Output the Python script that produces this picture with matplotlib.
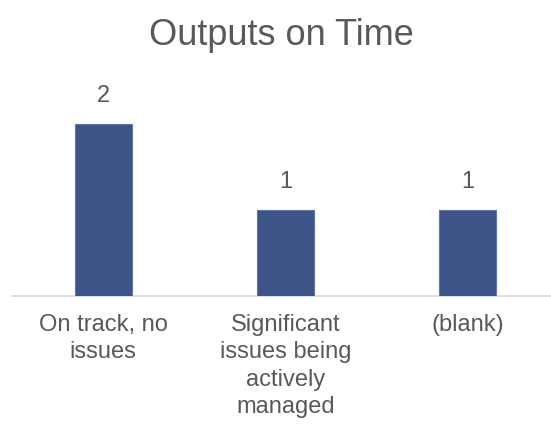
import matplotlib
matplotlib.use("Agg")
import matplotlib.pyplot as plt

categories = ["On track, no\nissues", "Significant\nissues being\nactively\nmanaged", "(blank)"]
values = [2, 1, 1]
title = "Outputs on Time"

plt.rcParams['font.family'] = ['Liberation Sans', 'DejaVu Sans']
text_color = "#595959"

fig = plt.figure(figsize=(5.51, 4.25), dpi=100)
ax = fig.add_axes([12/551, 129/425, 539/551, 215/425])
x = list(range(len(values)))
bars = ax.bar(x, values, width=0.312, color="#3C5488", edgecolor="#5E76AE", linewidth=0.8, zorder=3)
ax.set_xlim(-0.5, 2.4575)
ax.set_ylim(0, 2.5)
for s in ["top", "right", "left"]:
    ax.spines[s].set_visible(False)
ax.spines["bottom"].set_color("#D9D9D9")
ax.spines["bottom"].set_linewidth(1.2)
ax.set_yticks([])
ax.set_xticks(x)
ax.set_xticklabels(categories, fontsize=17, color=text_color, linespacing=1.31)
ax.tick_params(axis="x", length=0, pad=13)
for xi, v in zip(x, values):
    ax.annotate(str(v), (xi, v), xytext=(0, 16), textcoords="offset points",
                ha="center", va="baseline", fontsize=17, color=text_color)
fig.text(281/551, (425-45)/425, title, ha="center", va="baseline", fontsize=26, color=text_color)
fig.savefig("out.png", dpi=100)
